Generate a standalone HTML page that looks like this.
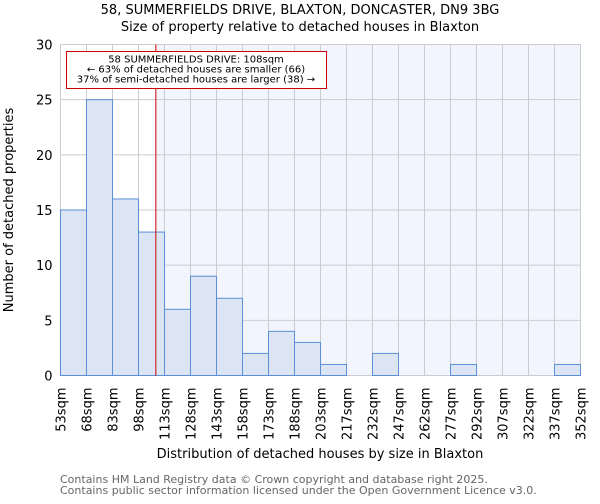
<!DOCTYPE html>
<html><head><meta charset="utf-8"><style>
body{margin:0;background:#fff;font-family:"DejaVu Sans","Liberation Sans",sans-serif;}
svg text{font-family:"DejaVu Sans","Liberation Sans",sans-serif;}
</style></head><body>
<svg id="chart" width="600" height="500" xmlns="http://www.w3.org/2000/svg">
<text x="300" y="14" text-anchor="middle" font-size="13">58, SUMMERFIELDS DRIVE, BLAXTON, DONCASTER, DN9 3BG</text>
<text x="300" y="31" text-anchor="middle" font-size="13">Size of property relative to detached houses in Blaxton</text>
<g id="plot"></g>
<text transform="translate(13,210) rotate(-90)" text-anchor="middle" font-size="13">Number of detached properties</text>
<text x="320" y="458" text-anchor="middle" font-size="13">Distribution of detached houses by size in Blaxton</text>
<text x="60" y="483" font-size="11" fill="#666">Contains HM Land Registry data © Crown copyright and database right 2025.</text>
<text x="60" y="494" font-size="11" fill="#666">Contains public sector information licensed under the Open Government Licence v3.0.</text>
</svg>
<script>
const binLabels=["53sqm","68sqm","83sqm","98sqm","113sqm","128sqm","143sqm","158sqm","173sqm","188sqm","203sqm","217sqm","232sqm","247sqm","262sqm","277sqm","292sqm","307sqm","322sqm","337sqm","352sqm"];
const counts=[15,25,16,13,6,9,7,2,4,3,1,0,2,0,0,1,0,0,0,1];
const yTicks=[0,5,10,15,20,25,30];
const markerSize=108;
const binStarts=[53,68,83,98,113,128,143,158,173,188,203,217,232,247,262,277,292,307,322,337,352];
const NS="http://www.w3.org/2000/svg";
const L=60.5,R=580.5,T=44.5,B=375.5,yMax=30;
const bw=(R-L)/counts.length;
const xs=i=>L+i*bw;
const ys=v=>B-(v/yMax)*(B-T);
function xv(v){for(let i=0;i<binStarts.length-1;i++){if(v<=binStarts[i+1])return xs(i)+bw*(v-binStarts[i])/(binStarts[i+1]-binStarts[i]);}return R;}
const g=document.getElementById('plot');
function mk(t,a){const e=document.createElementNS(NS,t);for(const k in a)e.setAttribute(k,a[k]);g.appendChild(e);return e;}
const mx=xv(markerSize);
let e=mk('rect',{x:mx,y:T,width:R-mx,height:B-T,fill:'#f2f5fd'});


yTicks.forEach(v=>{const l=mk('line',{x1:L,x2:R,y1:ys(v),y2:ys(v),stroke:'#cccccc'});


const t=mk('text',{x:L-8,y:ys(v)+5,'text-anchor':'end','font-size':'13'});t.textContent=v;

});
binLabels.forEach((s,i)=>{const l=mk('line',{x1:xs(i),x2:xs(i),y1:T,y2:B,stroke:'#cccccc'});


const t=mk('text',{transform:`translate(${xs(i)+5},${B+12}) rotate(-90)`,'text-anchor':'end','font-size':'13'});t.textContent=s;

});
counts.forEach((c,i)=>{if(c<=0)return;const r=mk('rect',{x:xs(i),y:ys(c),width:bw,height:B-ys(c),fill:'#dbe5f4',stroke:'#5b8fd6','stroke-width':1});

});
e=mk('line',{x1:mx,x2:mx,y1:T,y2:B,stroke:'#cc0000','stroke-width':1});


e=mk('rect',{x:66.5,y:51.5,width:260,height:37,fill:'#fff',stroke:'#cc0000'});


["58 SUMMERFIELDS DRIVE: 108sqm","← 63% of detached houses are smaller (66)","37% of semi-detached houses are larger (38) →"].forEach((s,i)=>{
const t=mk('text',{x:196,y:62.5+i*10,'text-anchor':'middle','font-size':'10'});t.textContent=s;

});
</script>
</body></html>
